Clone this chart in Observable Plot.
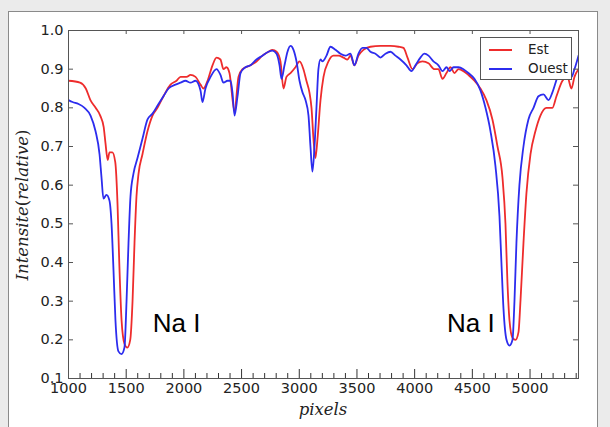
<!DOCTYPE html>
<html>
<head>
<meta charset="utf-8">
<script src="https://cdn.jsdelivr.net/npm/d3@7"></script>
<script src="https://cdn.jsdelivr.net/npm/@observablehq/plot@0.6"></script>
<style>
  html, body { margin: 0; padding: 0; background: #ebebeb; width: 610px; height: 427px; overflow: hidden; }
  #panel { position: absolute; left: 8px; top: 11px; width: 588px; height: 440px; background: #fff; border: 1px solid #8a8a8a; }
  #chart { position: absolute; left: 0; top: 0; }
  #ylabel { position: absolute; left: 22px; top: 205px; transform: translate(-50%, -50%) rotate(-90deg);
            font-family: "DejaVu Serif"; font-size: 16.5px; white-space: nowrap; color: #222; }
  #xlabel { position: absolute; left: 323px; top: 400px; transform: translateX(-50%);
            font-family: "DejaVu Serif"; font-style: italic; font-size: 16.5px; white-space: nowrap; color: #222; }
  #ylabel i { font-style: italic; }
  .legend { position: absolute; left: 480px; top: 37px; width: 90px; height: 41px; border: 1px solid #555; background: #fff;
            font-family: "DejaVu Sans"; font-size: 13.5px; color: #222; }
  .legend .row { position: absolute; left: 0; height: 16px; width: 90px; }
  .legend .sw { position: absolute; left: 8px; top: 7px; width: 23px; height: 2px; }
  .legend .lab { position: absolute; left: 47px; top: -1px; }
</style>
</head>
<body>
<div id="panel"></div>
<div id="chart"></div>
<div id="ylabel"><i>Intensite</i>(<i>relative</i>)</div>
<div id="xlabel">pixels</div>
<div class="legend" id="legend"></div>
<script>
// ---- data ----
const series = ["Est", "Ouest"];
const seriesColors = ["#ee2c2c", "#2c2cee"];

const estX = [1000,1100,1150,1190,1235,1275,1305,1320,1340,1355,1380,1405,1425,1440,1460,1485,1510,1535,1555,1572,1589,1607,1641,1685,1728,1771,1823,1884,1936,1971,2023,2057,2101,2144,2170,2205,2248,2283,2317,2343,2369,2395,2439,2473,2508,2577,2629,2681,2733,2768,2803,2837,2863,2889,2924,2967,3002,3036,3062,3088,3106,3123,3140,3158,3184,3210,3253,3296,3340,3383,3418,3444,3478,3513,3556,3617,3704,3790,3860,3903,3938,3981,4024,4068,4120,4172,4206,4241,4276,4310,4345,4380,4423,4466,4518,4570,4622,4674,4718,4761,4787,4804,4822,4848,4874,4900,4917,4943,4969,5004,5047,5090,5142,5194,5229,5281,5324,5359,5385,5420];
const estY = [0.87,0.865,0.85,0.82,0.80,0.78,0.75,0.71,0.665,0.685,0.685,0.66,0.55,0.40,0.25,0.19,0.18,0.20,0.30,0.45,0.57,0.63,0.68,0.74,0.78,0.80,0.83,0.86,0.87,0.88,0.88,0.885,0.88,0.86,0.85,0.87,0.91,0.93,0.925,0.90,0.905,0.89,0.79,0.88,0.90,0.91,0.92,0.935,0.945,0.95,0.945,0.92,0.85,0.88,0.89,0.905,0.92,0.90,0.87,0.84,0.80,0.72,0.67,0.72,0.82,0.88,0.92,0.935,0.935,0.93,0.925,0.935,0.91,0.935,0.95,0.958,0.96,0.96,0.958,0.955,0.93,0.90,0.915,0.92,0.915,0.90,0.90,0.875,0.89,0.905,0.89,0.90,0.895,0.885,0.87,0.85,0.82,0.77,0.70,0.62,0.50,0.35,0.25,0.205,0.20,0.22,0.30,0.45,0.58,0.68,0.74,0.78,0.80,0.80,0.83,0.87,0.88,0.85,0.88,0.90];

const ouestX = [1000,1035,1087,1139,1191,1234,1269,1286,1303,1329,1355,1373,1390,1407,1433,1459,1485,1503,1520,1537,1563,1598,1641,1685,1728,1780,1823,1867,1927,1971,2014,2057,2101,2144,2161,2187,2231,2283,2317,2343,2378,2404,2421,2439,2465,2491,2534,2577,2629,2681,2733,2768,2803,2829,2846,2872,2898,2924,2950,2976,3002,3028,3054,3080,3097,3114,3132,3149,3166,3184,3201,3236,3270,3314,3357,3400,3444,3478,3513,3548,3582,3617,3660,3704,3747,3790,3834,3877,3929,3972,4007,4050,4085,4120,4163,4206,4241,4276,4302,4337,4380,4423,4466,4518,4570,4614,4657,4700,4735,4752,4770,4796,4822,4848,4865,4882,4908,4943,4986,5030,5073,5116,5160,5194,5238,5281,5333,5359,5385,5420];
const ouestY = [0.82,0.815,0.81,0.80,0.78,0.74,0.68,0.62,0.565,0.575,0.56,0.50,0.38,0.25,0.17,0.163,0.18,0.30,0.45,0.57,0.63,0.67,0.72,0.77,0.785,0.81,0.83,0.85,0.86,0.865,0.87,0.865,0.87,0.845,0.815,0.85,0.88,0.90,0.885,0.865,0.87,0.87,0.84,0.78,0.83,0.89,0.905,0.91,0.925,0.935,0.945,0.948,0.94,0.91,0.875,0.91,0.945,0.96,0.95,0.92,0.87,0.84,0.82,0.78,0.70,0.635,0.70,0.80,0.90,0.925,0.92,0.935,0.958,0.95,0.94,0.935,0.94,0.91,0.94,0.955,0.955,0.945,0.94,0.93,0.94,0.945,0.935,0.925,0.91,0.895,0.91,0.93,0.94,0.935,0.92,0.91,0.895,0.905,0.895,0.905,0.905,0.90,0.89,0.875,0.845,0.80,0.74,0.65,0.52,0.40,0.28,0.20,0.185,0.20,0.30,0.45,0.60,0.70,0.77,0.80,0.83,0.835,0.82,0.84,0.88,0.91,0.91,0.88,0.90,0.935];

const xTicks = [1000,1500,2000,2500,3000,3500,4000,4500,5000];
const xMinorTicks = [1100,1200,1300,1400,1600,1700,1800,1900,2100,2200,2300,2400,2600,2700,2800,2900,3100,3200,3300,3400,3600,3700,3800,3900,4100,4200,4300,4400,4600,4700,4800,4900,5100,5200,5300,5400];
const yTicks = [0.1,0.2,0.3,0.4,0.5,0.6,0.7,0.8,0.9,1.0];

const annText = ["Na I", "Na I"];
const annX = [1730, 4280];
const annY = [0.242, 0.242];

// ---- build table ----
const rows = [
  ...estX.map((x, i) => ({s: series[0], x, y: estY[i]})),
  ...ouestX.map((x, i) => ({s: series[1], x, y: ouestY[i]}))
];

const W = 610, H = 427, mL = 68, mR = 32, mT = 30, mB = 49;
const innerW = W - mL - mR, innerH = H - mT - mB;

const chart = Plot.plot({
  width: W, height: H,
  marginLeft: mL, marginRight: mR, marginTop: mT, marginBottom: mB,
  style: {background: "transparent", fontFamily: "DejaVu Sans", fontSize: "14.5px", color: "#222", overflow: "visible"},
  x: {domain: [1000, 5420]},
  y: {domain: [0.1, 1.0]},
  color: {domain: series, range: seriesColors},
  marks: [
    Plot.line(rows, {x: "x", y: "y", z: "s", stroke: "s", strokeWidth: 1.8, curve: "monotone-x", clip: true}),
    Plot.tickX(xMinorTicks, {x: d => d, insetTop: innerH - 5, stroke: "#333"}),
    Plot.tickX(xTicks, {x: d => d, insetTop: innerH - 9, stroke: "#333"}),
    Plot.tickX(xTicks, {x: d => d, insetBottom: innerH - 4, stroke: "#555"}),
    Plot.tickY(yTicks, {y: d => d, insetRight: innerW - 5, stroke: "#555"}),
    Plot.tickY(yTicks, {y: d => d, insetLeft: innerW - 5, stroke: "#555"}),
    Plot.frame({stroke: "#555"}),
    Plot.axisX(xTicks, {tickSize: 0, tickPadding: 4, label: null, tickFormat: "d", fontSize: 14.5}),
    Plot.axisY(yTicks, {tickSize: 0, tickPadding: 5, label: null, tickFormat: ".1f", fontSize: 14.5}),
    Plot.text(annText, {x: (d, i) => annX[i], y: (d, i) => annY[i], text: d => d, textAnchor: "start",
                        fontSize: 26, fontFamily: "Liberation Sans", fill: "#000"})
  ]
});
document.getElementById("chart").appendChild(chart);

// legend
const leg = document.getElementById("legend");
series.forEach((s, i) => {
  const row = document.createElement("div");
  row.className = "row";
  row.style.top = (4 + i * 19) + "px";
  row.innerHTML = `<div class="sw" style="background:${seriesColors[i]}"></div><div class="lab">${s}</div>`;
  leg.appendChild(row);
});
</script>
</body>
</html>
